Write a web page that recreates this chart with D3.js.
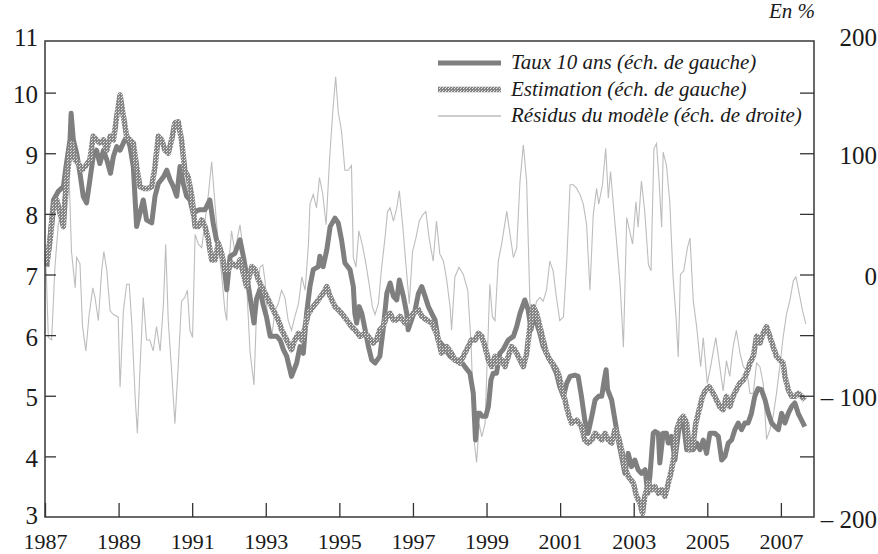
<!DOCTYPE html>
<html>
<head>
<meta charset="utf-8">
<script src="https://cdn.jsdelivr.net/npm/d3@7"></script>
<style>
  body { margin: 0; background: #fff; }
  svg text { font-family: "Liberation Serif", "Times New Roman", serif; fill: #1a1a1a; }
</style>
</head>
<body>
<svg id="chart" width="878" height="554"></svg>
<script>
// ticks
var anneesTicks = [1987, 1989, 1991, 1993, 1995, 1997, 1999, 2001, 2003, 2005, 2007];
var gaucheTicks = [3, 4, 5, 6, 7, 8, 9, 10, 11];
var droiteTicks = [-200, -150, -100, -50, 0, 50, 100, 150, 200];

// taux 10 ans, en % (ech. de gauche)
var taux10ans = [
  [1987.05,7.13],[1987.14,7.63],[1987.23,8.23],[1987.36,8.37],[1987.50,8.45],[1987.57,8.78],[1987.68,9.22],[1987.71,9.66],
  [1987.77,9.22],[1987.86,9.00],[1987.95,8.67],[1988.04,8.29],[1988.13,8.18],[1988.22,8.56],[1988.31,8.95],[1988.40,9.05],
  [1988.49,8.83],[1988.59,9.05],[1988.68,8.89],[1988.78,8.67],[1988.86,8.95],[1988.95,9.11],[1989.04,9.05],[1989.13,9.17],
  [1989.22,9.28],[1989.31,9.11],[1989.40,8.78],[1989.49,7.79],[1989.58,8.01],[1989.67,8.23],[1989.76,7.90],[1989.90,7.85],
  [1989.99,8.29],[1990.08,8.50],[1990.22,8.61],[1990.31,8.72],[1990.40,8.56],[1990.49,8.45],[1990.58,8.29],[1990.67,8.78],
  [1990.76,8.50],[1990.85,8.29],[1990.94,8.23],[1991.03,8.00],[1991.12,8.05],[1991.21,8.07],[1991.35,8.07],[1991.48,8.23],
  [1991.57,7.85],[1991.66,7.57],[1991.80,7.35],[1991.89,7.02],[1991.94,6.75],[1992.03,7.30],[1992.16,7.35],[1992.30,7.57],
  [1992.39,7.30],[1992.44,7.13],[1992.53,6.80],[1992.68,6.20],[1992.75,6.60],[1992.84,6.75],[1992.93,6.50],[1993.02,6.30],
  [1993.12,5.98],[1993.21,5.98],[1993.30,5.98],[1993.39,5.92],[1993.48,5.76],[1993.57,5.65],[1993.70,5.32],[1993.84,5.54],
  [1993.93,5.81],[1994.02,5.70],[1994.11,6.36],[1994.20,6.80],[1994.29,7.08],[1994.43,7.13],[1994.47,7.30],[1994.56,7.13],
  [1994.66,7.41],[1994.75,7.79],[1994.88,7.93],[1994.97,7.85],[1995.06,7.57],[1995.15,7.19],[1995.29,7.08],[1995.38,6.80],
  [1995.42,6.36],[1995.47,6.20],[1995.54,6.47],[1995.61,6.36],[1995.70,6.09],[1995.79,5.81],[1995.88,5.59],[1995.97,5.54],
  [1996.10,5.65],[1996.19,6.09],[1996.29,6.69],[1996.38,6.86],[1996.47,6.64],[1996.56,6.58],[1996.63,6.91],[1996.74,6.64],
  [1996.83,6.36],[1996.87,6.09],[1996.96,6.25],[1997.06,6.42],[1997.15,6.69],[1997.24,6.80],[1997.33,6.64],[1997.42,6.47],
  [1997.51,6.36],[1997.60,6.25],[1997.69,5.92],[1997.83,5.81],[1998.01,5.65],[1998.14,5.59],[1998.28,5.59],[1998.41,5.48],
  [1998.55,5.37],[1998.64,5.04],[1998.70,4.27],[1998.76,4.71],[1998.82,4.71],[1998.88,4.66],[1998.98,4.66],[1999.05,4.82],
  [1999.12,5.26],[1999.18,5.37],[1999.27,5.37],[1999.36,5.70],[1999.45,5.76],[1999.59,5.92],[1999.73,5.98],[1999.82,6.14],
  [1999.91,6.36],[2000.04,6.58],[2000.13,6.42],[2000.21,6.09],[2000.27,6.31],[2000.36,6.20],[2000.45,6.03],[2000.54,5.81],
  [2000.63,5.70],[2000.77,5.54],[2000.90,5.37],[2000.99,5.15],[2001.09,4.99],[2001.18,5.21],[2001.27,5.32],[2001.40,5.34],
  [2001.49,5.32],[2001.58,4.99],[2001.67,4.60],[2001.76,4.38],[2001.86,4.66],[2001.95,4.93],[2002.04,4.99],[2002.13,4.99],
  [2002.20,5.26],[2002.25,5.43],[2002.29,5.10],[2002.40,4.93],[2002.49,4.60],[2002.58,4.27],[2002.67,4.00],[2002.76,3.72],
  [2002.85,4.05],[2002.94,3.83],[2003.03,3.94],[2003.12,3.78],[2003.21,3.72],[2003.31,3.78],[2003.38,3.39],[2003.44,3.67],
  [2003.53,4.38],[2003.58,4.41],[2003.67,4.38],[2003.71,3.89],[2003.80,4.38],[2003.89,4.38],[2003.94,4.22],[2004.03,4.33],
  [2004.12,3.94],[2004.26,4.60],[2004.35,4.55],[2004.44,4.11],[2004.53,4.11],[2004.62,4.11],[2004.71,4.22],[2004.80,4.11],
  [2004.89,4.27],[2004.98,4.05],[2005.07,4.38],[2005.21,4.38],[2005.30,4.33],[2005.39,3.94],[2005.48,4.00],[2005.57,4.22],
  [2005.66,4.27],[2005.75,4.44],[2005.84,4.55],[2005.93,4.44],[2006.02,4.55],[2006.11,4.55],[2006.20,4.71],[2006.29,4.99],
  [2006.38,5.12],[2006.47,5.10],[2006.57,4.93],[2006.66,4.71],[2006.75,4.55],[2006.84,4.49],[2006.93,4.44],[2007.02,4.71],
  [2007.11,4.55],[2007.20,4.71],[2007.29,4.82],[2007.38,4.88],[2007.47,4.71],[2007.56,4.60],[2007.65,4.49]
];

// estimation du modele, en % (ech. de gauche)
var estimation = [
  [1987.05,7.19],[1987.14,7.57],[1987.23,8.12],[1987.32,8.23],[1987.41,8.01],[1987.50,7.79],[1987.54,8.23],[1987.63,8.78],
  [1987.72,9.17],[1987.82,8.89],[1987.91,8.83],[1988.00,8.72],[1988.09,8.78],[1988.22,8.89],[1988.31,9.28],[1988.40,9.22],
  [1988.49,9.17],[1988.59,9.22],[1988.68,9.05],[1988.77,9.28],[1988.86,9.22],[1988.95,9.61],[1989.04,9.96],[1989.13,9.61],
  [1989.22,9.28],[1989.31,9.22],[1989.40,9.17],[1989.49,8.78],[1989.58,8.45],[1989.67,8.42],[1989.81,8.42],[1989.90,8.45],
  [1989.99,8.78],[1990.08,9.28],[1990.17,9.22],[1990.26,9.05],[1990.35,9.00],[1990.44,9.22],[1990.53,9.50],[1990.62,9.52],
  [1990.71,9.22],[1990.80,8.72],[1990.89,8.61],[1990.99,8.29],[1991.08,7.79],[1991.17,7.79],[1991.26,7.90],[1991.35,7.79],
  [1991.44,7.57],[1991.53,7.24],[1991.62,7.24],[1991.71,7.52],[1991.80,7.35],[1991.89,7.08],[1991.98,7.08],[1992.07,7.19],
  [1992.21,7.13],[1992.30,7.24],[1992.39,7.02],[1992.48,6.80],[1992.62,7.13],[1992.71,7.08],[1992.80,6.91],[1992.89,6.80],
  [1992.98,6.69],[1993.07,6.58],[1993.16,6.47],[1993.25,6.36],[1993.34,6.25],[1993.43,6.09],[1993.52,5.98],[1993.61,5.87],
  [1993.70,5.76],[1993.79,5.92],[1993.89,6.03],[1993.98,5.92],[1994.07,6.14],[1994.16,6.36],[1994.29,6.47],[1994.43,6.58],
  [1994.56,6.69],[1994.66,6.80],[1994.75,6.64],[1994.88,6.47],[1994.97,6.42],[1995.06,6.36],[1995.20,6.25],[1995.33,6.14],
  [1995.42,6.09],[1995.56,5.98],[1995.70,6.03],[1995.79,5.98],[1995.92,5.87],[1996.01,5.92],[1996.10,6.09],[1996.19,6.14],
  [1996.29,6.31],[1996.38,6.36],[1996.47,6.25],[1996.56,6.25],[1996.65,6.31],[1996.78,6.20],[1996.87,6.25],[1997.01,6.36],
  [1997.15,6.42],[1997.24,6.31],[1997.37,6.25],[1997.51,6.20],[1997.64,6.03],[1997.78,5.70],[1997.92,5.81],[1998.05,5.70],
  [1998.14,5.59],[1998.28,5.54],[1998.41,5.70],[1998.50,5.81],[1998.59,5.92],[1998.69,5.92],[1998.78,6.03],[1998.87,5.98],
  [1998.96,5.81],[1999.05,5.59],[1999.14,5.48],[1999.23,5.65],[1999.32,5.54],[1999.41,5.59],[1999.50,5.48],[1999.59,5.65],
  [1999.68,5.81],[1999.77,5.76],[1999.86,5.65],[2000.00,5.48],[2000.09,5.70],[2000.18,6.14],[2000.27,6.47],[2000.36,6.36],
  [2000.45,6.14],[2000.54,5.92],[2000.63,5.70],[2000.72,5.59],[2000.86,5.48],[2000.95,5.37],[2001.04,5.15],[2001.13,4.93],
  [2001.22,4.71],[2001.31,4.55],[2001.45,4.60],[2001.58,4.49],[2001.67,4.27],[2001.76,4.22],[2001.86,4.27],[2001.95,4.38],
  [2002.04,4.33],[2002.13,4.27],[2002.22,4.38],[2002.31,4.27],[2002.40,4.22],[2002.49,4.44],[2002.58,4.33],[2002.67,4.11],
  [2002.76,3.83],[2002.85,3.67],[2002.99,3.56],[2003.08,3.34],[2003.17,3.23],[2003.24,3.06],[2003.30,3.34],[2003.40,3.56],
  [2003.49,3.45],[2003.58,3.50],[2003.67,3.39],[2003.76,3.45],[2003.85,3.34],[2003.94,3.56],[2004.03,3.78],[2004.12,4.11],
  [2004.17,4.44],[2004.26,4.60],[2004.35,4.66],[2004.44,4.55],[2004.51,4.11],[2004.60,4.16],[2004.69,4.55],[2004.78,4.77],
  [2004.87,4.99],[2004.96,5.10],[2005.05,5.15],[2005.16,5.04],[2005.25,4.93],[2005.34,4.82],[2005.43,4.77],[2005.52,4.99],
  [2005.61,4.82],[2005.70,4.99],[2005.79,5.10],[2005.89,5.21],[2005.98,5.26],[2006.07,5.37],[2006.16,5.54],[2006.25,5.65],
  [2006.34,5.98],[2006.43,5.87],[2006.52,6.03],[2006.61,6.14],[2006.70,5.98],[2006.79,5.81],[2006.88,5.65],[2006.97,5.59],
  [2007.06,5.54],[2007.11,5.32],[2007.20,5.10],[2007.29,4.99],[2007.38,4.99],[2007.47,5.04],[2007.56,4.99],[2007.65,4.93]
];

// residus du modele, en points de base (ech. de droite)
var residus = [
  [1987.03,6],[1987.09,-52],[1987.18,-54],[1987.27,6],[1987.36,41],[1987.45,52],[1987.54,41],[1987.63,66],[1987.66,77],
  [1987.72,19],[1987.82,-11],[1987.86,14],[1987.95,9],[1988.02,-43],[1988.11,-63],[1988.20,-33],[1988.30,-11],[1988.36,-19],
  [1988.45,-38],[1988.54,3],[1988.60,19],[1988.68,3],[1988.77,-30],[1988.86,-33],[1988.99,-35],[1989.04,-93],[1989.13,-30],
  [1989.22,-8],[1989.29,-8],[1989.36,-41],[1989.45,-101],[1989.51,-131],[1989.58,-79],[1989.67,-19],[1989.76,-54],[1989.85,-54],
  [1989.94,-63],[1990.03,-43],[1990.13,-63],[1990.22,-24],[1990.28,25],[1990.35,-38],[1990.44,-79],[1990.53,-123],[1990.62,-76],
  [1990.71,-22],[1990.80,-19],[1990.87,-13],[1990.94,-46],[1991.01,-52],[1991.08,33],[1991.17,25],[1991.26,22],[1991.35,44],
  [1991.44,66],[1991.53,93],[1991.62,58],[1991.71,25],[1991.80,0],[1991.89,-30],[1991.94,-38],[1991.98,3],[1992.07,36],
  [1992.16,19],[1992.30,41],[1992.39,19],[1992.48,-8],[1992.57,-63],[1992.68,-91],[1992.75,-30],[1992.84,6],[1992.92,8],
  [1992.98,-5],[1993.07,-46],[1993.16,-52],[1993.25,-30],[1993.34,-24],[1993.43,-13],[1993.52,-19],[1993.61,-38],[1993.70,-46],
  [1993.79,-35],[1993.89,-24],[1993.98,-2],[1994.07,-13],[1994.16,25],[1994.20,58],[1994.29,66],[1994.38,55],[1994.46,80],
  [1994.55,66],[1994.64,41],[1994.73,93],[1994.82,134],[1994.90,163],[1994.97,134],[1995.06,118],[1995.15,86],[1995.24,86],
  [1995.33,90],[1995.38,14],[1995.45,6],[1995.53,36],[1995.62,25],[1995.71,11],[1995.81,-8],[1995.90,-27],[1995.97,-33],
  [1996.06,-24],[1996.15,6],[1996.24,30],[1996.31,52],[1996.38,55],[1996.47,44],[1996.56,55],[1996.63,69],[1996.72,41],
  [1996.81,8],[1996.90,-24],[1996.99,19],[1997.08,30],[1997.17,44],[1997.26,49],[1997.35,52],[1997.44,30],[1997.55,11],
  [1997.64,44],[1997.73,17],[1997.83,11],[1997.92,-5],[1998.01,-27],[1998.05,-46],[1998.14,-2],[1998.25,6],[1998.37,0],
  [1998.49,-13],[1998.58,-57],[1998.67,-139],[1998.73,-155],[1998.80,-123],[1998.87,-134],[1998.96,-123],[1999.09,-8],
  [1999.16,-35],[1999.23,-38],[1999.32,11],[1999.41,25],[1999.55,52],[1999.64,33],[1999.73,14],[1999.82,22],[1999.91,77],
  [2000.00,107],[2000.09,77],[2000.18,-24],[2000.27,-35],[2000.36,-22],[2000.45,-19],[2000.54,-22],[2000.63,-13],[2000.72,11],
  [2000.81,3],[2000.90,-19],[2000.99,-38],[2001.09,-35],[2001.18,11],[2001.27,74],[2001.36,74],[2001.45,71],[2001.54,66],
  [2001.63,58],[2001.72,41],[2001.81,-13],[2001.90,49],[2001.99,71],[2002.05,58],[2002.15,74],[2002.24,104],[2002.31,63],
  [2002.37,85],[2002.44,60],[2002.54,25],[2002.63,-8],[2002.72,-60],[2002.81,47],[2002.97,25],[2003.06,60],[2003.12,39],
  [2003.21,77],[2003.30,52],[2003.40,8],[2003.47,3],[2003.55,104],[2003.62,108],[2003.69,77],[2003.76,39],[2003.80,101],
  [2003.89,90],[2003.98,60],[2004.07,-2],[2004.15,-35],[2004.21,-68],[2004.27,0],[2004.36,3],[2004.46,22],[2004.53,30],
  [2004.62,-22],[2004.71,-43],[2004.82,-76],[2004.89,-52],[2005.00,-90],[2005.09,-76],[2005.23,-52],[2005.34,-76],[2005.43,-96],
  [2005.52,-71],[2005.61,-84],[2005.70,-60],[2005.79,-46],[2005.89,-65],[2005.98,-76],[2006.07,-79],[2006.16,-98],[2006.25,-98],
  [2006.34,-73],[2006.43,-76],[2006.52,-90],[2006.61,-136],[2006.70,-128],[2006.79,-117],[2006.88,-98],[2006.97,-76],
  [2007.06,-52],[2007.15,-33],[2007.24,-22],[2007.34,-5],[2007.41,-2],[2007.50,-16],[2007.59,-30],[2007.68,-41]
];

var legendItems = ['Taux 10 ans (éch. de gauche)', 'Estimation (éch. de gauche)', 'Résidus du modèle (éch. de droite)'];

var plot = {left: 45, right: 814, top: 32, frameTop: 41, bottom: 517};

var svg = d3.select('#chart');

var x = d3.scaleLinear().domain([1987, 2007.9]).range([plot.left, plot.right]);
var yGauche = d3.scaleLinear().domain([3, 11]).range([plot.bottom, plot.top]);
var yDroite = d3.scaleLinear().domain([-200, 200]).range([plot.bottom, plot.top]);

// hatched texture for the estimation line
var pat = svg.append('defs').append('pattern')
  .attr('id', 'hatch')
  .attr('patternUnits', 'userSpaceOnUse')
  .attr('width', 3).attr('height', 3);
pat.append('rect').attr('width', 3).attr('height', 3).attr('fill', '#858585');
pat.append('rect').attr('x', 1).attr('y', 1).attr('width', 1).attr('height', 1).attr('fill', '#e8e8e8');
pat.append('rect').attr('x', 2).attr('y', 0).attr('width', 1).attr('height', 1).attr('fill', '#cfcfcf');

var lineG = d3.line().x(d => x(d[0])).y(d => yGauche(d[1]));
var lineD = d3.line().x(d => x(d[0])).y(d => yDroite(d[1]));

// series
svg.append('path').datum(residus)
  .attr('d', lineD)
  .attr('fill', 'none').attr('stroke', '#bdbdbd').attr('stroke-width', 1.1);

svg.append('path').datum(taux10ans)
  .attr('d', lineG)
  .attr('fill', 'none').attr('stroke', '#7f7f7f').attr('stroke-width', 5)
  .attr('stroke-linejoin', 'round');

svg.append('path').datum(estimation)
  .attr('d', lineG)
  .attr('fill', 'none').attr('stroke', 'url(#hatch)').attr('stroke-width', 5.5)
  .attr('stroke-linejoin', 'round');

// frame
svg.append('rect')
  .attr('x', plot.left).attr('y', plot.frameTop)
  .attr('width', plot.right - plot.left).attr('height', plot.bottom - plot.frameTop)
  .attr('fill', 'none').attr('stroke', '#444').attr('stroke-width', 1.6);

// x axis
svg.append('g')
  .attr('transform', 'translate(0,' + plot.bottom + ')')
  .call(d3.axisBottom(x).tickValues(anneesTicks).tickFormat(d3.format('d')).tickSize(-14).tickPadding(16))
  .call(g => g.select('.domain').remove())
  .call(g => g.selectAll('.tick line').attr('stroke', '#333').attr('stroke-width', 1.3))
  .selectAll('text').style('font-size', '22px').attr('fill', '#1a1a1a');

// left axis
svg.append('g')
  .attr('transform', 'translate(' + plot.left + ',0)')
  .call(d3.axisLeft(yGauche).tickValues(gaucheTicks).tickFormat(d3.format('d')).tickSize(-11).tickPadding(7))
  .call(g => g.select('.domain').remove())
  .call(g => g.selectAll('.tick line').attr('stroke', '#333').attr('stroke-width', 1.3)
    .filter(d => d === 11 || d === 3).remove())
  .selectAll('text').style('font-size', '25px').attr('fill', '#1a1a1a')
  .attr('dy', d => d === 11 ? '0.55em' : (d === 3 ? '0.25em' : '0.4em'));

// right axis
svg.append('g')
  .attr('transform', 'translate(' + plot.right + ',0)')
  .call(d3.axisRight(yDroite).tickValues(droiteTicks).tickSize(-14)
    .tickFormat(d => d % 100 !== 0 ? '' : (d < 0 ? '\u2013 ' + (-d) : d)))
  .call(g => g.select('.domain').remove())
  .call(g => g.selectAll('.tick line').attr('stroke', '#333').attr('stroke-width', 1.3)
    .filter(d => d === 200 || d === -200).remove())
  .selectAll('text').style('font-size', '25px').attr('fill', '#1a1a1a')
  .attr('text-anchor', 'end').attr('x', 63)
  .attr('dy', d => d === 200 ? '0.55em' : '0.4em');

// unit
svg.append('text')
  .attr('x', 815).attr('y', 18)
  .attr('text-anchor', 'end')
  .style('font-size', '21px').style('font-style', 'italic')
  .text('En %');

// legend
var leg = svg.append('g').attr('class', 'legend');
var legStyles = [
  {stroke: '#7f7f7f', w: 5},
  {stroke: 'url(#hatch)', w: 5.5},
  {stroke: '#bdbdbd', w: 1.3}
];
legendItems.forEach(function(t, i) {
  var yy = 63 + i * 26.5;
  leg.append('line')
    .attr('x1', 438).attr('x2', 501).attr('y1', yy).attr('y2', yy)
    .attr('stroke', legStyles[i].stroke).attr('stroke-width', legStyles[i].w);
  leg.append('text')
    .attr('x', 511).attr('y', yy + 6)
    .style('font-size', '21px').style('font-style', 'italic')
    .text(t);
});
</script>
</body>
</html>
